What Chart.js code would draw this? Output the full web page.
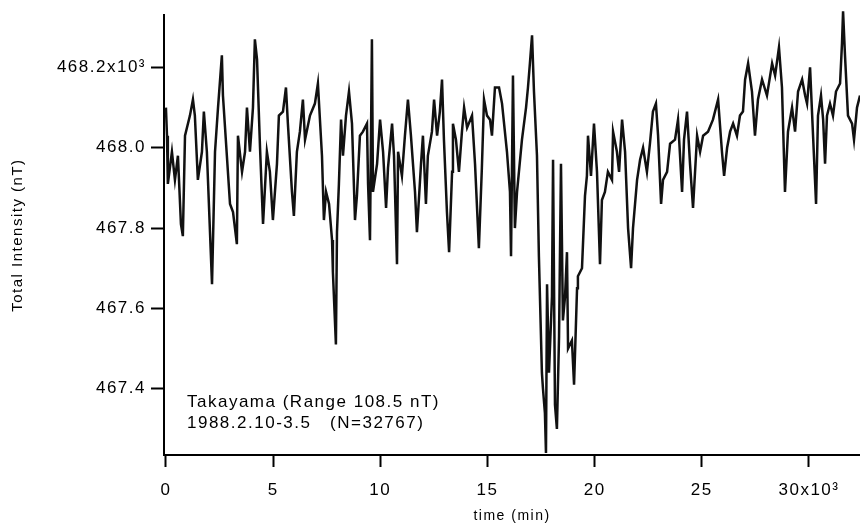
<!DOCTYPE html>
<html>
<head>
<meta charset="utf-8">
<script src="https://cdn.jsdelivr.net/npm/chart.js@4/dist/chart.umd.min.js"></script>
<style>
  html, body { margin: 0; padding: 0; background: #fff; }
  #wrap { width: 860px; height: 527px; position: relative; }
</style>
</head>
<body>
<div id="wrap"><canvas id="myChart"></canvas></div>
<script>
// time in units of 10^3 (x axis), total intensity in nT (y axis)
var times = [
  0, 0.05, 0.09, 0.28, 0.42, 0.56, 0.70, 0.79, 0.89, 1.12, 1.26, 1.35, 1.49, 1.68, 1.77, 1.91,
  2.15, 2.29, 2.43, 2.61, 2.66, 2.99, 3.13, 3.31, 3.36, 3.55, 3.69, 3.78, 3.92, 4.06, 4.15, 4.25,
  4.39, 4.53, 4.71, 4.85, 4.99, 5.18, 5.27, 5.46, 5.60, 5.69, 5.88, 5.97, 6.11,
  6.25, 6.39, 6.49, 6.72, 6.95, 7.09, 7.28, 7.37, 7.47, 7.61, 7.75, 7.79, 7.93, 7.98, 8.07, 8.17,
  8.26, 8.40, 8.54, 8.68, 8.82, 8.91, 9.05, 9.19, 9.38, 9.43, 9.52, 9.61, 9.66, 9.85, 9.99, 10.13,
  10.27, 10.36, 10.55, 10.64, 10.78, 10.83, 11.01, 11.15, 11.29, 11.43, 11.62, 11.71, 11.90, 11.99,
  12.13, 12.22, 12.41, 12.51, 12.65, 12.78,
  12.88, 12.97, 13.11, 13.21, 13.35, 13.39, 13.53, 13.67, 13.81, 13.91, 14.05, 14.28, 14.42, 14.60,
  14.74, 14.84, 14.98, 15.12, 15.21, 15.35, 15.54, 15.68, 15.91, 16.05, 16.10, 16.19, 16.28, 16.38,
  16.61, 16.80, 16.89, 16.98, 17.08, 17.17, 17.31, 17.40, 17.54, 17.59, 17.68, 17.73, 17.78, 17.87,
  18.01, 18.06, 18.15, 18.24, 18.34, 18.43, 18.52, 18.62, 18.71, 18.76, 18.94, 19.04, 19.18, 19.22,
  19.41, 19.55,
  19.64, 19.69, 19.83, 19.97, 20.11, 20.25, 20.34, 20.48, 20.62, 20.81, 20.86, 21.04, 21.14, 21.28,
  21.42, 21.56, 21.70, 21.79, 21.98, 22.12, 22.26, 22.44, 22.58, 22.72, 22.86, 22.96, 23.10, 23.19,
  23.38, 23.52, 23.75, 23.89, 24.08, 24.17, 24.31, 24.45, 24.59, 24.78, 24.92, 25.06, 25.29, 25.52,
  25.76,
  25.94, 26.04, 26.18, 26.32, 26.46, 26.64, 26.78, 26.92, 27.02, 27.16, 27.34, 27.48, 27.62, 27.81,
  28.04, 28.28, 28.42, 28.60, 28.74, 28.88, 29.02, 29.21, 29.35, 29.49, 29.68, 29.82, 29.91, 30.05,
  30.19, 30.33, 30.42, 30.56, 30.66, 30.75, 30.84, 30.98, 31.12, 31.26, 31.45, 31.54, 31.59, 31.68,
  31.82, 32.01, 32.10, 32.24, 32.38
];
var intensity = [
  468.10, 468.03, 467.91, 467.99, 467.92, 467.98, 467.81, 467.78, 468.03, 468.08, 468.12, 468.08, 467.92, 467.99, 468.09, 467.99,
  467.66, 467.99, 468.10, 468.23, 468.13, 467.86, 467.84, 467.76, 468.03, 467.94, 467.99, 468.10, 467.99, 468.10, 468.27, 468.22,
  468.00, 467.81, 467.99, 467.94, 467.82, 467.96, 468.08, 468.09, 468.15, 468.06, 467.89, 467.83, 467.99,
  468.04, 468.12, 468.02, 468.08, 468.11, 468.16, 467.98, 467.82, 467.89, 467.86, 467.77, 467.69, 467.51, 467.79, 467.91, 468.07,
  467.98, 468.08, 468.14, 468.06, 467.82, 467.88, 468.03, 468.04, 468.06, 467.91, 467.77, 468.27, 467.89, 467.96, 468.07, 467.99,
  467.85, 467.95, 468.06, 467.98, 467.71, 467.99, 467.93, 468.03, 468.12, 468.03, 467.89, 467.79, 467.96, 468.03,
  467.86, 467.98, 468.04, 468.12, 468.03, 468.09,
  468.17, 468.02, 467.84, 467.74, 467.94, 468.06, 468.02, 467.94, 468.04, 468.10, 468.05, 468.08, 467.96, 467.75,
  467.95, 468.12, 468.08, 468.07, 468.03, 468.15, 468.15, 468.11, 467.99, 467.89, 467.73, 468.18, 467.80, 467.89,
  468.02, 468.10, 468.15, 468.21, 468.28, 468.14, 467.98, 467.73, 467.44, 467.40, 467.34, 467.24, 467.66, 467.44,
  467.63, 467.97, 467.36, 467.30, 467.53, 467.96, 467.57, 467.63, 467.74, 467.50, 467.52, 467.41, 467.65, 467.68,
  467.70, 467.88,
  467.93, 468.03, 467.93, 468.06, 467.94, 467.71, 467.87, 467.89, 467.94, 467.92, 468.04, 467.99, 467.94, 468.07,
  467.99, 467.80, 467.70, 467.80, 467.92, 467.97, 468.00, 467.94, 468.01, 468.09, 468.11, 468.03, 467.86, 467.92,
  467.94, 468.01, 468.02, 468.07, 467.89, 468.02, 468.09, 467.96, 467.85, 468.03, 467.99, 468.03, 468.04, 468.07,
  468.12,
  467.99, 467.93, 468.00, 468.04, 468.06, 468.03, 468.08, 468.09, 468.17, 468.21, 468.14, 468.03, 468.12, 468.17,
  468.13, 468.21, 468.18, 468.25, 468.15, 467.89, 468.04, 468.10, 468.04, 468.14, 468.17, 468.13, 468.11, 468.20,
  468.03, 467.86, 468.08, 468.13, 468.07, 467.96, 468.08, 468.11, 468.08, 468.14, 468.16, 468.26, 468.34, 468.23,
  468.08, 468.06, 468.02, 468.10, 468.13
];

var xTickValues = [0, 5, 10, 15, 20, 25, 30];
var xTickLabels = ["0", "5", "10", "15", "20", "25", "30x10³"];
var yTickValues = [467.4, 467.6, 467.8, 468.0, 468.2];
var yTickLabels = ["467.4", "467.6", "467.8", "468.0", "468.2x10³"];
var noteLines = ["Takayama (Range 108.5 nT)", "1988.2.10-3.5   (N=32767)"];

var points = times.map(function (t, i) { return { x: t, y: intensity[i] }; });

var FONT = "'Liberation Sans', Arial, sans-serif";

var spacingPlugin = {
  id: "spacing",
  beforeDraw: function (chart) {
    chart.ctx.letterSpacing = "1.5px";
  }
};

var notePlugin = {
  id: "note",
  afterDraw: function (chart) {
    var ctx = chart.ctx, a = chart.chartArea;
    ctx.save();
    ctx.letterSpacing = "1.5px";
    ctx.fillStyle = "#000";
    ctx.font = "17px " + FONT;
    ctx.textAlign = "left";
    ctx.textBaseline = "alphabetic";
    ctx.fillText(noteLines[0], a.left + 23, a.bottom - 48);
    ctx.fillText(noteLines[1], a.left + 23, a.bottom - 27);
    ctx.restore();
  }
};

var ctx = document.getElementById("myChart");
var myLineChart = new Chart(ctx, {
  type: "line",
  data: {
    datasets: [{
      data: points,
      borderColor: "#111",
      borderWidth: 2.5,
      pointRadius: 0,
      tension: 0,
      fill: false,
      clip: false
    }]
  },
  options: {
    responsive: true,
    maintainAspectRatio: false,
    animation: false,
    layout: { padding: { top: 10, right: 0, left: 0, bottom: 0 } },
    plugins: { legend: { display: false }, tooltip: { enabled: false } },
    scales: {
      x: {
        type: "linear",
        min: -0.09,
        max: 32.38,
        afterFit: function (s) { s.height = 72; },
        afterBuildTicks: function (s) { s.ticks = xTickValues.map(function (v) { return { value: v }; }); },
        ticks: {
          color: "#000",
          font: { family: FONT, size: 17 },
          padding: 13,
          maxRotation: 0,
          autoSkip: false,
          callback: function (v) { var i = xTickValues.indexOf(v); return i < 0 ? "" : xTickLabels[i]; }
        },
        grid: { drawOnChartArea: false, tickLength: 12, tickWidth: 2, tickColor: "#000" },
        border: { display: true, color: "#000", width: 2 },
        title: {
          display: true,
          text: "time (min)",
          color: "#000",
          font: { family: FONT, size: 14 },
          padding: { top: 0, bottom: 2 }
        }
      },
      y: {
        type: "linear",
        min: 467.235,
        max: 468.33,
        afterFit: function (s) { s.width = 164; },
        afterBuildTicks: function (s) { s.ticks = yTickValues.map(function (v) { return { value: v }; }); },
        ticks: {
          color: "#000",
          font: { family: FONT, size: 17 },
          padding: 5,
          autoSkip: false,
          callback: function (v) {
            for (var i = 0; i < yTickValues.length; i++) {
              if (Math.abs(yTickValues[i] - v) < 1e-6) return yTickLabels[i];
            }
            return "";
          }
        },
        grid: { drawOnChartArea: false, tickLength: 13, tickWidth: 2, tickColor: "#000" },
        border: { display: true, color: "#000", width: 2 },
        title: {
          display: true,
          text: "Total Intensity (nT)",
          color: "#000",
          font: { family: FONT, size: 15 },
          padding: { top: 9, bottom: 0 }
        }
      }
    }
  },
  plugins: [spacingPlugin, notePlugin]
});
</script>
</body>
</html>
